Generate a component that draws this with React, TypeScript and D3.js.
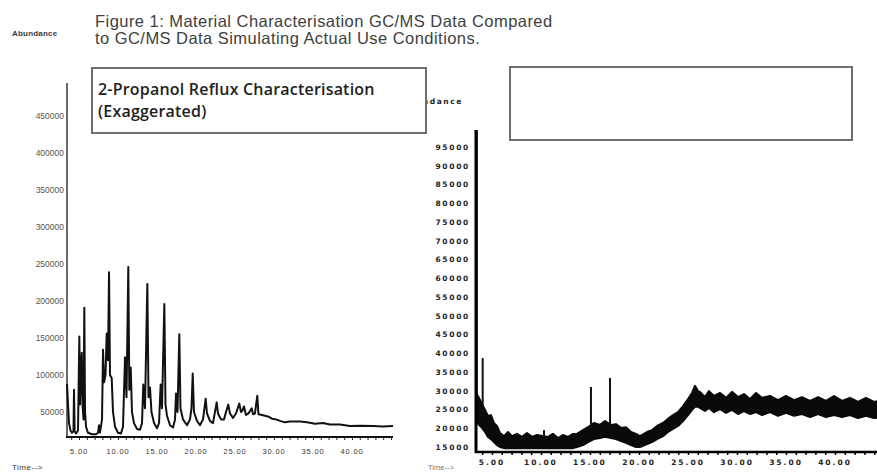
import React, { useRef, useEffect } from "react";
import * as d3 from "d3";

const titleLines = [
  "Figure 1: Material Characterisation GC/MS Data Compared",
  "to GC/MS Data Simulating Actual Use Conditions.",
];
const boxLines = ["2-Propanol Reflux Characterisation", "(Exaggerated)"];

// left chromatogram (reflux) - retention time in minutes / abundance
const refluxTime = [
  3.46, 3.59, 3.72, 3.91, 4.1, 4.29, 4.36, 4.44, 4.62, 4.87, 5.04, 5.13, 5.26,
  5.35, 5.45, 5.58, 5.68, 5.77, 5.9, 6.15, 6.67, 7.18, 7.44, 7.56, 7.69, 7.95,
  8.08, 8.21, 8.4, 8.55, 8.72, 8.85, 8.97, 9.19, 9.36, 9.62, 10.0, 10.38, 10.64,
  10.9, 11.09, 11.32, 11.45, 11.63, 11.79, 12.05, 12.44, 12.82, 13.08, 13.24,
  13.46, 13.76, 13.91, 14.1, 14.29, 14.62, 15.0, 15.26, 15.47, 15.64, 15.94,
  16.09, 16.28, 16.67, 17.05, 17.31, 17.44, 17.63, 17.86, 18.01, 18.33, 18.85,
  19.23, 19.42, 19.58, 19.74, 20.13, 20.51, 20.9, 21.24, 21.41, 21.79, 22.18,
  22.65, 22.82, 23.21, 23.59, 23.85, 24.14, 24.36, 24.74, 25.13, 25.55, 25.77,
  25.96, 26.15, 26.41, 26.73, 27.14, 27.31, 27.56, 27.86, 28.01, 28.46, 29.23,
  29.74, 30.26, 30.77, 31.41, 32.05, 33.33, 34.23, 35.26, 36.28, 37.18, 38.46,
  39.74, 41.03, 42.69, 43.97, 45.26,
];
const refluxAbund = [
  88000, 60000, 35000, 25000, 22000, 24000, 80000, 24000, 21000, 25000, 152000,
  60000, 110000, 130000, 60000, 40000, 191000, 50000, 30000, 22000, 20000,
  20000, 22000, 32000, 22000, 40000, 134000, 90000, 100000, 156000, 120000,
  239000, 100000, 96000, 50000, 30000, 22000, 21000, 30000, 124000, 70000,
  246000, 80000, 110000, 50000, 35000, 27000, 26000, 35000, 87000, 55000,
  223000, 70000, 83000, 50000, 35000, 28000, 35000, 87000, 55000, 196000, 60000,
  45000, 32000, 29000, 40000, 75000, 50000, 155000, 55000, 40000, 32000, 40000,
  55000, 102000, 50000, 38000, 32000, 40000, 68000, 48000, 38000, 35000, 63000,
  48000, 40000, 40000, 50000, 60000, 48000, 42000, 48000, 61500, 50000, 52000,
  57500, 46000, 48000, 55000, 47000, 48000, 72000, 47000, 46000, 44000, 41000,
  40000, 38000, 36000, 37000, 37000, 36000, 34000, 35000, 33000, 33000, 31000,
  31500, 31000, 30500, 31000,
];
const refluxTicks = [
  50000, 100000, 150000, 200000, 250000, 300000, 350000, 400000, 450000,
];

// right chromatogram (use conditions) - noisy band, upper and lower edge
const useTime = [
  3.37, 3.67, 3.98, 4.29, 4.59, 4.9, 5.2, 5.51, 5.82, 6.22, 6.63, 7.04, 7.55,
  8.06, 8.57, 9.08, 9.59, 10.71, 11.22, 11.73, 12.24, 12.76, 13.27, 13.67,
  14.29, 14.8, 15.41, 16.02, 16.53, 17.14, 17.65, 18.16, 18.67, 19.18, 19.69,
  20.1, 20.82, 21.33, 21.84, 22.45, 22.96, 23.47, 23.98, 24.49, 25.0, 25.41,
  25.71, 26.02, 26.22, 26.73, 27.14, 27.65, 28.27, 28.88, 29.49, 30.1, 30.71,
  31.33, 31.94, 32.55, 33.37, 34.18, 35.0, 35.82, 36.63, 37.45, 38.27, 39.08,
  39.9, 40.71, 41.53, 42.35, 43.16, 43.98, 44.8, 45.61,
];
const useUpper = [
  29400, 28100, 26500, 24900, 23300, 23500, 21400, 20600, 18700, 17900, 19000,
  17900, 18500, 17700, 18700, 17700, 18200, 17700, 18500, 17400, 18200, 17700,
  18500, 18500, 19500, 20300, 21400, 20900, 21900, 20900, 21100, 20100, 20300,
  19000, 18500, 17900, 19000, 19500, 20600, 21400, 22500, 23500, 24300, 25900,
  27800, 29400, 31300, 29900, 29700, 28300, 29900, 28600, 29400, 28100, 29700,
  28300, 29100, 27800, 29400, 28100, 28600, 27500, 28600, 27500, 28300, 27300,
  28300, 27300, 28600, 27300, 28100, 27000, 28100, 27000, 27500, 27300,
];
const useLower = [
  22200, 20900, 20100, 19000, 17700, 17100, 16300, 15500, 15000, 14700, 14700,
  14700, 14700, 14700, 14700, 14700, 14700, 14700, 14700, 14700, 14700, 14700,
  14700, 15000, 15500, 16300, 17100, 17400, 17700, 17400, 17100, 16600, 16100,
  15500, 15000, 15000, 15800, 16300, 17100, 17900, 19000, 19800, 20600, 21900,
  23500, 24900, 25700, 25700, 25400, 24600, 25400, 24300, 25100, 24100, 24900,
  23800, 24600, 23800, 24300, 23500, 24300, 23300, 24100, 23300, 23800, 23000,
  23800, 23000, 23500, 23000, 23500, 22700, 23300, 22700, 23000, 22700,
];
const spikeTime = [3.45, 4.05, 10.31, 15.1, 17.04];
const spikeTop = [99500, 38700, 19500, 31000, 33400];
const spikeBase = [26000, 24000, 17500, 19500, 20500];
const useTicks = [
  15000, 20000, 25000, 30000, 35000, 40000, 45000, 50000, 55000, 60000, 65000,
  70000, 75000, 80000, 85000, 90000, 95000,
];
const timeTicks = [5, 10, 15, 20, 25, 30, 35, 40];

const W = 877;
const H = 472;

const App: React.FC = () => {
  const svgRef = useRef<SVGSVGElement | null>(null);

  useEffect(() => {
    const svg = d3.select(svgRef.current);
    svg.selectAll("*").remove();
    svg.append("rect").attr("width", W).attr("height", H).attr("fill", "#fff");

    const fmt = d3.format(".2f");
    const minorTimes = d3.range(4, 46);

    // ---------- left panel ----------
    const xL = d3.scaleLinear().domain([3.46, 45.26]).range([67, 393]);
    const yL = d3.scaleLinear().domain([16200, 494600]).range([437, 83]);

    const left = svg.append("g");

    left
      .append("line")
      .attr("x1", 67)
      .attr("x2", 67)
      .attr("y1", 83)
      .attr("y2", 438)
      .attr("stroke", "#6a6a6a")
      .attr("stroke-width", 2);

    left
      .selectAll(".ytl")
      .data(refluxTicks)
      .join("text")
      .attr("x", 64)
      .attr("y", (d) => yL(d) + 3)
      .attr("text-anchor", "end")
      .style("font-family", "Liberation Sans, Arial, sans-serif")
      .style("font-size", "8.5px")
      .attr("fill", "#5e524c")
      .text((d) => String(d));

    const lineL = d3
      .line<number>()
      .x((_, i) => xL(refluxTime[i]))
      .y((d) => yL(d));

    left
      .append("path")
      .datum(refluxAbund)
      .attr("d", lineL)
      .attr("fill", "none")
      .attr("stroke", "#111")
      .attr("stroke-width", 2)
      .attr("stroke-linejoin", "round");

    const axL = left.append("g").attr("transform", "translate(0,437)");
    axL
      .call(
        d3
          .axisBottom(xL)
          .tickValues(minorTimes)
          .tickSize(3)
          .tickFormat(() => "")
      )
      .call((g) => g.select(".domain").remove());
    axL.selectAll("line").attr("stroke", "#222");
    left
      .append("line")
      .attr("x1", 66)
      .attr("x2", 393)
      .attr("y1", 437)
      .attr("y2", 437)
      .attr("stroke", "#111")
      .attr("stroke-width", 2);
    left
      .selectAll(".xtl")
      .data(timeTicks)
      .join("text")
      .attr("x", (d) => xL(d))
      .attr("y", 454)
      .attr("text-anchor", "middle")
      .style("font-family", "Liberation Sans, Arial, sans-serif")
      .style("font-size", "7.5px")
      .style("letter-spacing", "0.8px")
      .attr("fill", "#3a3430")
      .text((d) => fmt(d));

    left
      .append("text")
      .attr("x", 12)
      .attr("y", 36)
      .style("font-family", "Liberation Sans, Arial, sans-serif")
      .style("font-size", "8px")
      .style("font-weight", "bold")
      .style("letter-spacing", "0.2px")
      .attr("fill", "#3a3a3a")
      .text("Abundance");
    left
      .append("text")
      .attr("x", 12)
      .attr("y", 470)
      .style("font-family", "Liberation Sans, Arial, sans-serif")
      .style("font-size", "8px")
      .style("letter-spacing", "0.5px")
      .attr("fill", "#333")
      .text("Time-->");

    // ---------- right panel ----------
    const xR = d3.scaleLinear().domain([3.37, 45.61]).range([476, 890]);
    const yR = d3.scaleLinear().domain([13670, 99500]).range([452, 130]);
    const right = svg.append("g");

    right
      .append("text")
      .attr("x", 463)
      .attr("y", 104)
      .attr("text-anchor", "end")
      .style("font-family", "DejaVu Sans, sans-serif")
      .style("font-size", "7.5px")
      .style("font-weight", "bold")
      .style("letter-spacing", "1.6px")
      .attr("fill", "#222")
      .text("Abundance");

    right
      .selectAll(".ytr")
      .data(useTicks)
      .join("text")
      .attr("x", 470)
      .attr("y", (d) => yR(d) + 3)
      .attr("text-anchor", "end")
      .style("font-family", "DejaVu Sans, sans-serif")
      .style("font-size", "7.5px")
      .style("font-weight", "bold")
      .style("letter-spacing", "1.7px")
      .attr("fill", "#222")
      .text((d) => String(d));

    const area = d3
      .area<number>()
      .x((_, i) => xR(useTime[i]))
      .y0((_, i) => yR(useLower[i]))
      .y1((d) => yR(d));
    right
      .append("path")
      .datum(useUpper)
      .attr("d", area)
      .attr("fill", "#0a0a0a")
      .attr("stroke", "#0a0a0a")
      .attr("stroke-width", 2)
      .attr("stroke-linejoin", "round");

    right
      .selectAll(".spike")
      .data(spikeTime)
      .join("line")
      .attr("x1", (d) => xR(d))
      .attr("x2", (d) => xR(d))
      .attr("y1", (_, i) => yR(spikeTop[i]))
      .attr("y2", (_, i) => yR(spikeBase[i]))
      .attr("stroke", "#111")
      .attr("stroke-width", 2);

    right
      .append("line")
      .attr("x1", 476)
      .attr("x2", 476)
      .attr("y1", 130)
      .attr("y2", 453)
      .attr("stroke", "#000")
      .attr("stroke-width", 3);

    const axR = right.append("g").attr("transform", "translate(0,452)");
    axR
      .call(
        d3
          .axisBottom(xR)
          .tickValues(minorTimes)
          .tickSize(3)
          .tickFormat(() => "")
      )
      .call((g) => g.select(".domain").remove());
    axR.selectAll("line").attr("stroke", "#000").attr("stroke-width", 1.5);
    right
      .append("line")
      .attr("x1", 475)
      .attr("x2", W)
      .attr("y1", 452)
      .attr("y2", 452)
      .attr("stroke", "#000")
      .attr("stroke-width", 2.5);
    right
      .selectAll(".xtr")
      .data(timeTicks)
      .join("text")
      .attr("x", (d) => xR(d))
      .attr("y", 465)
      .attr("text-anchor", "middle")
      .style("font-family", "DejaVu Sans, sans-serif")
      .style("font-size", "7.5px")
      .style("font-weight", "bold")
      .style("letter-spacing", "2px")
      .attr("fill", "#222")
      .text((d) => fmt(d));
    right
      .append("text")
      .attr("x", 428)
      .attr("y", 470)
      .style("font-family", "Liberation Sans, Arial, sans-serif")
      .style("font-size", "7.5px")
      .attr("fill", "#777")
      .text("Time-->");

    // ---------- boxes and title ----------
    svg
      .append("rect")
      .attr("x", 92)
      .attr("y", 68)
      .attr("width", 334)
      .attr("height", 65)
      .attr("fill", "#fff")
      .attr("stroke", "#6e6e6e")
      .attr("stroke-width", 2);
    svg
      .selectAll(".boxt")
      .data(boxLines)
      .join("text")
      .attr("x", 98)
      .attr("y", (_, i) => 95 + i * 22)
      .style("font-family", "Open Sans, sans-serif")
      .style("font-size", "16px")
      .style("font-weight", "600")
      .style("letter-spacing", "0.2px")
      .attr("fill", "#1e1e1e")
      .text((d) => d);

    svg
      .append("rect")
      .attr("x", 510)
      .attr("y", 67)
      .attr("width", 342)
      .attr("height", 73)
      .attr("fill", "#fff")
      .attr("stroke", "#6e6e6e")
      .attr("stroke-width", 2);

    svg
      .selectAll(".title")
      .data(titleLines)
      .join("text")
      .attr("x", 95)
      .attr("y", (_, i) => 27 + i * 17)
      .style("font-family", "Liberation Sans, Arial, sans-serif")
      .style("font-size", "16.5px")
      .style("letter-spacing", "0.45px")
      .attr("fill", "#404040")
      .text((d) => d);
  }, []);

  return (
    <div style={{ position: "absolute", left: 0, top: 0 }}>
      <svg ref={svgRef} width={W} height={H} style={{ display: "block" }} />
    </div>
  );
};

export default App;
